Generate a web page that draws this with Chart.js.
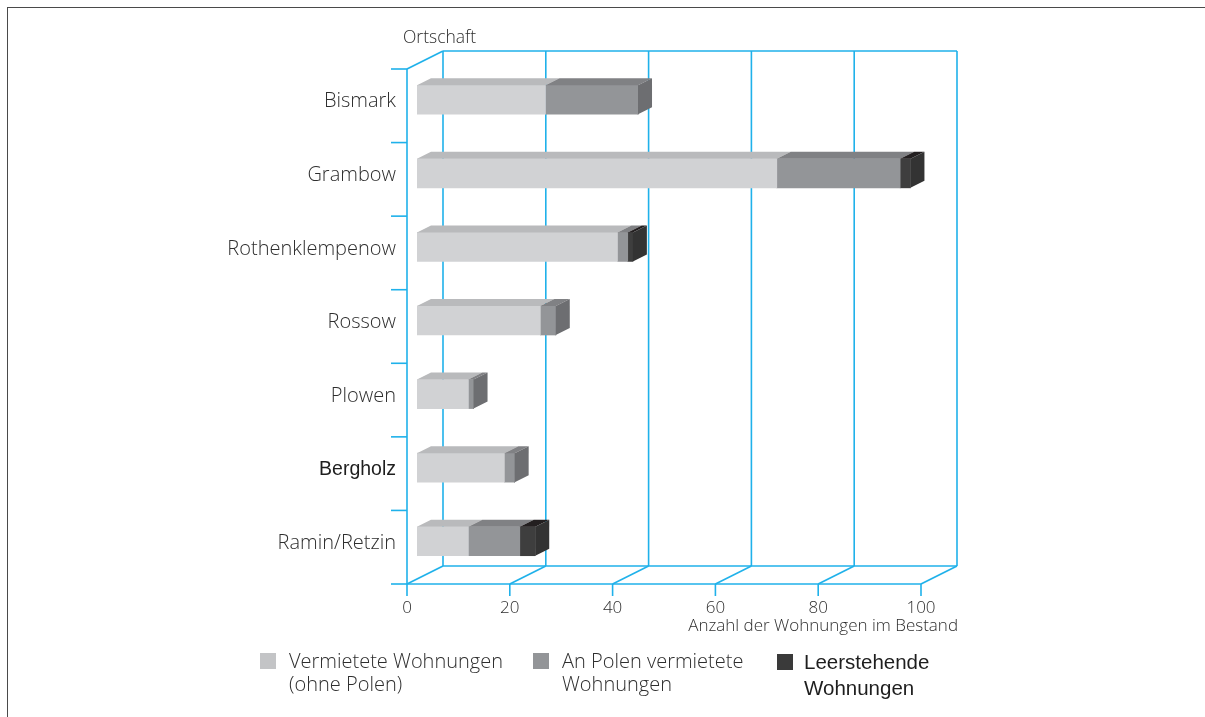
<!DOCTYPE html>
<html lang="de">
<head>
<meta charset="utf-8">
<script src="https://cdn.jsdelivr.net/npm/chart.js@4.4.1/dist/chart.umd.min.js"></script>
<style>
  html, body { margin: 0; padding: 0; background: #fff; }
  body { width: 1205px; height: 717px; position: relative; overflow: hidden; font-family: 'Open Sans', sans-serif; color: #2e2e2e; }
  #frame { position: absolute; left: 7px; top: 7px; width: 1300px; height: 800px; border-top: 1.5px solid #4a4a4a; border-left: 1.5px solid #4a4a4a; }
  #c { position: absolute; left: 0; top: 0; }
  .legend { position: absolute; top: 649px; font-size: 20px; line-height: 23px; font-weight: 300; }
  .legend .sw { position: absolute; width: 16px; height: 16px; top: 4px; }
  .legend .tx { position: absolute; white-space: nowrap; }
  .legend.alt { font-family: 'Liberation Sans', Arial, sans-serif; font-weight: 400; font-size: 20.5px; color: #1e1e1e; line-height: 26px; }
</style>
</head>
<body>
<div id="frame"></div>
<canvas id="c" width="1205" height="717"></canvas>

<div class="legend" style="left:260px"><span class="sw" style="left:0;background:#c3c4c6"></span><span class="tx" style="left:29px">Vermietete Wohnungen<br>(ohne Polen)</span></div>
<div class="legend" style="left:533px"><span class="sw" style="left:0;background:#939598"></span><span class="tx" style="left:29px">An Polen vermietete<br>Wohnungen</span></div>
<div class="legend alt" style="left:777px"><span class="sw" style="left:0;background:#3a3a3a;top:5px"></span><span class="tx" style="left:27px">Leerstehende<br>Wohnungen</span></div>

<script>
// Ortschaften (von oben nach unten)
const orte = ['Bismark', 'Grambow', 'Rothenklempenow', 'Rossow', 'Plowen', 'Bergholz', 'Ramin/Retzin'];

// Anzahl der Wohnungen im Bestand, je Kategorie
const vermietet = [25, 70, 39, 24, 10, 17, 10];
const anPolen   = [18, 24, 2, 3, 1, 2, 10];
const leer      = [0, 2, 1, 0, 0, 0, 3];

const xTicks = [0, 20, 40, 60, 80, 100];

const GRID = '#1fb1ea';
const TEXT = '#2e2e2e';
// Versatz der Vorder- und Rückwand gegenüber der Balkenebene
const FRONT = { dx: -10, dy: 6 };
const BACK = { dx: 26, dy: -12 };
// Tiefe der Balken
const BAR_DX = 14, BAR_DY = 7;

const faces = [
  { front: '#d1d2d4', top: '#b9babc', side: '#a7a9ac' },
  { front: '#939598', top: '#808184', side: '#6d6e71' },
  { front: '#3e3e3e', top: '#231f20', side: '#333333' },
];

function line(ctx, x1, y1, x2, y2) {
  ctx.beginPath();
  ctx.moveTo(x1, y1);
  ctx.lineTo(x2, y2);
  ctx.stroke();
}

function poly(ctx, pts, color) {
  ctx.beginPath();
  ctx.moveTo(pts[0][0], pts[0][1]);
  pts.slice(1).forEach((p) => ctx.lineTo(p[0], p[1]));
  ctx.closePath();
  ctx.fillStyle = color;
  ctx.fill();
}

/* ── Raster, Boden und Wände in Pseudo-3D ── */
const walls = {
  id: 'walls',
  beforeDatasetsDraw(chart) {
    const { ctx, chartArea: a, scales: { x } } = chart;
    const x0 = x.getPixelForValue(0);
    const x1 = x.getPixelForValue(100);
    ctx.save();
    ctx.strokeStyle = GRID;
    ctx.lineWidth = 1.6;

    // Rückwand
    line(ctx, x0 + BACK.dx, a.top + BACK.dy, x1 + BACK.dx, a.top + BACK.dy);
    line(ctx, x0 + BACK.dx, a.bottom + BACK.dy, x1 + BACK.dx, a.bottom + BACK.dy);
    xTicks.forEach((v) => {
      const px = x.getPixelForValue(v);
      line(ctx, px + BACK.dx, a.top + BACK.dy, px + BACK.dx, a.bottom + BACK.dy);
      // Boden-Diagonale
      line(ctx, px + FRONT.dx, a.bottom + FRONT.dy, px + BACK.dx, a.bottom + BACK.dy);
      // Teilstrich unten
      line(ctx, px + FRONT.dx, a.bottom + FRONT.dy, px + FRONT.dx, a.bottom + FRONT.dy + 12);
    });

    // Vorderkante Boden
    line(ctx, x0 + FRONT.dx, a.bottom + FRONT.dy, x1 + FRONT.dx, a.bottom + FRONT.dy);

    // linke Wand
    line(ctx, x0 + FRONT.dx, a.top + FRONT.dy, x0 + FRONT.dx, a.bottom + FRONT.dy);
    line(ctx, x0 + FRONT.dx, a.top + FRONT.dy, x0 + BACK.dx, a.top + BACK.dy);

    // Teilstriche an der Kategorienachse
    const step = (a.bottom - a.top) / orte.length;
    for (let i = 0; i <= orte.length; i++) {
      const py = a.top + i * step + FRONT.dy;
      line(ctx, x0 + FRONT.dx - 16, py, x0 + FRONT.dx, py);
    }
    ctx.restore();
  },

  afterDatasetsDraw(chart) {
    const { ctx } = chart;
    ctx.save();
    const n = chart.data.datasets.length;
    for (let j = 0; j < orte.length; j++) {
      let last = -1;
      for (let i = 0; i < n; i++) {
        const el = chart.getDatasetMeta(i).data[j];
        const v = chart.data.datasets[i].data[j];
        if (!v) continue;
        last = i;
        const top = el.y - el.height / 2;
        const l = Math.min(el.base, el.x), r = Math.max(el.base, el.x);
        poly(ctx, [[l, top], [r, top], [r + BAR_DX, top - BAR_DY], [l + BAR_DX, top - BAR_DY]], faces[i].top);
      }
      if (last >= 0) {
        const el = chart.getDatasetMeta(last).data[j];
        const top = el.y - el.height / 2, bot = el.y + el.height / 2;
        const r = Math.max(el.base, el.x);
        poly(ctx, [[r, top], [r + BAR_DX, top - BAR_DY], [r + BAR_DX, bot - BAR_DY], [r, bot]], faces[last].side);
      }
    }
    ctx.restore();
  },

  afterDraw(chart) {
    const { ctx, chartArea: a, scales: { x, y } } = chart;
    const x0 = x.getPixelForValue(0);
    ctx.save();
    ctx.textBaseline = 'middle';

    // Kategorien
    ctx.textAlign = 'right';
    orte.forEach((o, i) => {
      ctx.font = o === 'Bergholz' ? '400 19.5px "Liberation Sans"' : '300 20px "Open Sans"';
      ctx.fillStyle = o === 'Bergholz' ? '#1e1e1e' : TEXT;
      ctx.fillText(o, x0 - 21, y.getPixelForValue(i) + 2);
    });

    // Werte-Achse
    ctx.fillStyle = TEXT;
    ctx.font = '300 17px "Open Sans"';
    ctx.textAlign = 'center';
    xTicks.forEach((v) => {
      ctx.fillText(String(v), x.getPixelForValue(v) + FRONT.dx, a.bottom + FRONT.dy + 24);
    });
    ctx.textAlign = 'right';
    ctx.fillText('Anzahl der Wohnungen im Bestand', x.getPixelForValue(100) + BACK.dx + 1, a.bottom + 48);

    ctx.textAlign = 'left';
    ctx.font = '300 17.5px "Open Sans"';
    ctx.fillText('Ortschaft', x0 - 14, 38);
    ctx.restore();
  },
};

const datasets = [vermietet, anPolen, leer].map((d, i) => ({
  label: ['Vermietete Wohnungen (ohne Polen)', 'An Polen vermietete Wohnungen', 'Leerstehende Wohnungen'][i],
  data: d,
  backgroundColor: faces[i].front,
  borderWidth: 0,
  barThickness: 29,
}));

new Chart(document.getElementById('c'), {
  type: 'bar',
  data: { labels: orte, datasets },
  options: {
    indexAxis: 'y',
    responsive: false,
    animation: false,
    devicePixelRatio: 1,
    layout: { padding: { left: 417, right: 274, top: 63, bottom: 139 } },
    plugins: { legend: { display: false }, tooltip: { enabled: false } },
    scales: {
      x: { stacked: true, min: 0, max: 100, display: false },
      y: { stacked: true, display: false },
    },
  },
  plugins: [walls],
});
</script>
</body>
</html>
